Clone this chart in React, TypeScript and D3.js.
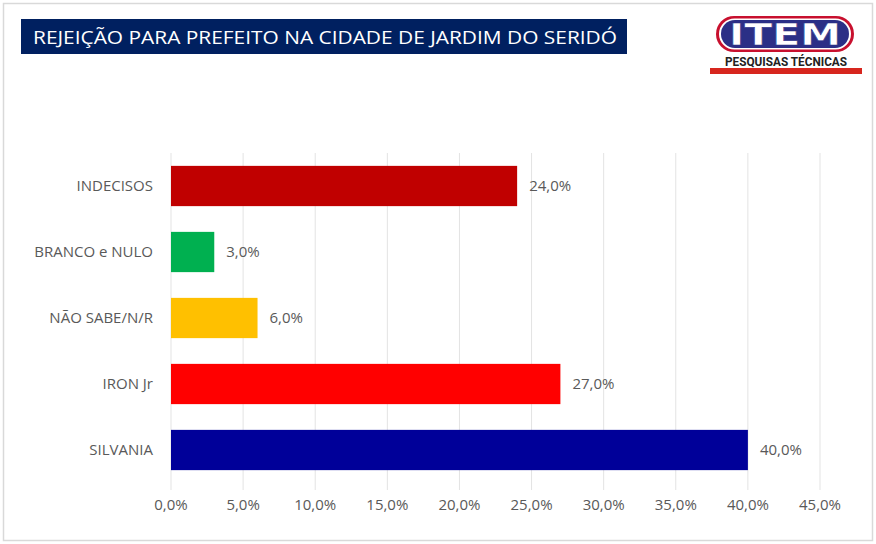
import React from "react";
import * as d3 from "d3";

// chart data
const categories = ["INDECISOS", "BRANCO e NULO", "NÃO SABE/N/R", "IRON Jr", "SILVANIA"];
const values = [24, 3, 6, 27, 40];
const barColors = ["#C00000", "#00B050", "#FFC000", "#FF0000", "#000099"];
const xTicks = [0, 5, 10, 15, 20, 25, 30, 35, 40, 45];
const title = "REJEIÇÃO PARA PREFEITO NA CIDADE DE JARDIM DO SERIDÓ";

const W = 876;
const H = 544;
const fmt = (v: number) => v.toFixed(1).replace(".", ",") + "%";
const font = "'Open Sans', sans-serif";

export default function App() {
  const x = d3.scaleLinear().domain([0, 45]).range([171, 820]);
  const y = d3.scaleBand().domain(categories).range([153, 483]).paddingInner(0.39).paddingOuter(0.195);

  return (
    <svg width={W} height={H} style={{ position: "absolute", left: 0, top: 0, background: "#fff" }}>
      <rect x={3.5} y={3.5} width={W - 7} height={H - 7} fill="#fff" stroke="#D9D9D9" strokeWidth={1.5} />

      {/* title */}
      <rect x={21} y={19} width={606} height={35} fill="#002060" />
      <text x={33} y={43.5} fill="#fff" fontFamily={font} fontSize={19}
        textLength={584} lengthAdjust="spacingAndGlyphs">{title}</text>

      {/* logo */}
      <g>
        <rect x={716} y={16} width={138} height={36} rx={18} fill="#C8102E" />
        <rect x={719} y={18.5} width={132} height={31} rx={15.5} fill="#fff" />
        <rect x={721} y={20} width={128} height={28} rx={14} fill="#2B2F86" />
        <text x={785} y={45} textAnchor="middle" fill="#fff" fontFamily="'DejaVu Sans', sans-serif"
          fontWeight="bold" fontSize={30} textLength={112} lengthAdjust="spacingAndGlyphs"
          stroke="#2B2F86" strokeWidth={0.5}>ITEM</text>
        <text x={786} y={66} textAnchor="middle" fill="#222" fontFamily="'Roboto', sans-serif"
          fontWeight="bold" fontSize={12} textLength={122} lengthAdjust="spacingAndGlyphs">PESQUISAS TÉCNICAS</text>
        <rect x={710} y={68} width={152} height={6} fill="#D7261E" />
      </g>

      {/* gridlines */}
      {xTicks.map((t) => (
        <line key={t} x1={x(t)} x2={x(t)} y1={153} y2={490} stroke="#E3E3E3" strokeWidth={1} />
      ))}

      {/* bars */}
      {categories.map((c, i) => (
        <g key={c}>
          <rect x={x(0)} y={y(c)} width={x(values[i]) - x(0)} height={y.bandwidth()} fill={barColors[i]} />
          <text x={153} y={(y(c) as number) + y.bandwidth() / 2} dy="0.35em" textAnchor="end"
            fill="#595959" fontFamily={font} fontSize={15}>{c}</text>
          <text x={x(values[i]) + 12} y={(y(c) as number) + y.bandwidth() / 2} dy="0.35em"
            fill="#595959" fontFamily={font} fontSize={15}>{fmt(values[i])}</text>
        </g>
      ))}

      {/* x axis labels */}
      {xTicks.map((t) => (
        <text key={t} x={x(t)} y={510} textAnchor="middle" fill="#595959" fontFamily={font} fontSize={15}>
          {fmt(t)}
        </text>
      ))}
    </svg>
  );
}
